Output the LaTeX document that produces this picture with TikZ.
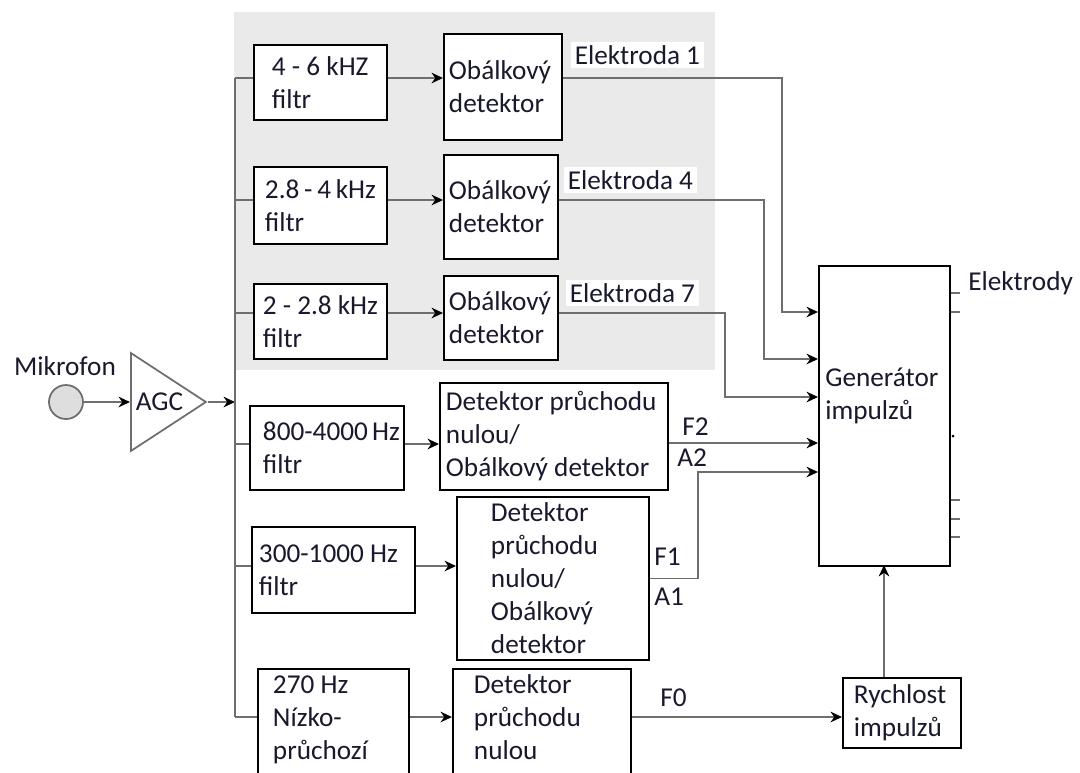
\documentclass[tikz,border=0pt]{standalone}
\usepackage{fontspec}
\setmainfont{Carlito}
\usepackage{tikz}
\usetikzlibrary{arrows.meta,shapes.geometric}
\exhyphenpenalty=10000
\hyphenpenalty=10000
\definecolor{ink}{RGB}{25,25,45}
\definecolor{wire}{RGB}{110,110,110}
\definecolor{tint}{RGB}{234,234,234}

\begin{document}
\begin{tikzpicture}[x=0.02cm, y=-0.02cm,
    txt/.style={font=\fontsize{15.5}{18.8}\selectfont, text=ink},
    blok/.style n args={3}{txt, draw=black, fill=white, line width=1.1pt, anchor=north west,
        align=flush left, inner ysep=0pt, minimum width=#1*0.02cm, minimum height=#2*0.02cm,
        inner xsep=#3*0.02cm, text width=(#1-2*#3)*0.02cm},
    conn/.style={draw=wire, line width=1.1pt},
    arr/.style={conn, -{Stealth[length=6.5pt, width=6pt, color=black]}},
    lab/.style={txt, anchor=west, inner sep=0pt},
    elab/.style={lab, fill=white, inner sep=2pt}]
    \path[use as bounding box, clip] (0,0) rectangle (1080,772);
    \fill[tint] (234,12) rectangle (715,370);

    \node[circle, draw=wire, fill=black!13, line width=1pt, minimum size=34*0.02cm, inner sep=0pt] (mic) at (66,402) {};
    \node[txt] (miclab) at (65,366) {Mikrofon};
    \node[isosceles triangle, isosceles triangle stretches, draw=wire, fill=white, line width=1pt,
        minimum width=98*0.02cm, minimum height=75*0.02cm, inner sep=0pt, txt, anchor=west] (agc) at (130,402) {AGC};

    \coordinate (r1) at (235,78);
    \coordinate (r2) at (235,200);
    \coordinate (r3) at (235,313);
    \coordinate (r4) at (235,444);
    \coordinate (r5) at (235,566);
    \coordinate (r6) at (235,717);

    \node[blok={133}{75}{18}] (f1) at (253,44) {4~-~6~kHZ\\filtr};
    \node[blok={133}{77}{11}] (f2) at (253,166) {2.8~-~4~kHz\\filtr};
    \node[blok={133}{75}{9}] (f3) at (253,283) {2~-~2.8~kHz\\filtr};
    \node[blok={154}{84}{13}] (f4) at (249,405) {800-4000~Hz\\filtr};
    \node[blok={163}{86}{7}] (f5) at (251,526) {300-1000~Hz\\filtr};
    \node[blok={151}{130}{15}] (f6) at (257,668) {270~Hz\\Nízko-\\průchozí\\\mbox{}};

    \node[blok={118}{106}{5}] (d1) at (443,33) {Obálkový\\detektor};
    \node[blok={114}{104}{5}] (d2) at (443,154) {Obálkový\\detektor};
    \node[blok={114}{84}{5}] (d3) at (443,275) {Obálkový\\detektor};
    \node[blok={228}{107}{6}] (d4) at (439,382) {Detektor~průchodu\\nulou/\\Obálkový~detektor};
    \node[blok={192}{163}{34}] (d5) at (456,496) {Detektor\\průchodu\\nulou/\\Obálkový\\detektor};
    \node[blok={178}{130}{21}] (d6) at (452,668) {Detektor\\průchodu\\nulou\\\mbox{}};

    \node[blok={131}{300}{7}, label={[txt, anchor=west, align=flush left, inner sep=0pt, xshift=0.14cm, yshift=11.3pt]west:Generátor\\impulzů}] (gen) at (818,265) {};
    \node[blok={118}{70}{11}] (rate) at (842,677) {Rychlost\\impulzů};

    \coordinate (g1) at (818,312);
    \coordinate (g2) at (818,359);
    \coordinate (g3) at (818,397);
    \coordinate (g4) at (818,443);
    \coordinate (g5) at (818,472);
    \coordinate (g7) at (884,565);

    \draw[arr] (mic) -- (agc.west);
    \draw[arr] (agc.apex) -- (agc.apex -| r1);
    \draw[conn] (r1) -- (r6);
    \foreach \r/\f/\d in {r1/f1/d1, r2/f2/d2, r3/f3/d3, r4/f4/d4, r5/f5/d5, r6/f6/d6} {
        \draw[conn] (\r) -- (\r -| \f.west);
        \draw[arr] (\r -| \f.east) -- (\r -| \d.west);
    }

    \draw[arr] (r1 -| d1.east) -- +(219,0) |- (g1);
    \draw[arr] (r2 -| d2.east) -- +(205,0) |- (g2);
    \draw[arr] (r3 -| d3.east) -- +(166,0) |- (g3);
    \draw[arr] (d4.east |- g4) -- (g4);
    \draw[arr] (d5.east) -- +(48,0) |- (g5);
    \draw[arr] (r6 -| d6.east) -- (r6 -| rate.west);
    \draw[arr] (g7 |- rate.north) -- (g7);

    \foreach \ty in {293,312,500,519,537}
        \draw[conn] (gen.east |- 0,\ty) -- +(9,0);
    \fill (953,436) circle (1.5);

    \node[elab] (e1) at (571,55) {Elektroda 1};
    \node[elab] (e4) at (564,180) {Elektroda 4};
    \node[elab] (e7) at (566,293) {Elektroda 7};
    \node[lab] (lf2) at (682,427) {F2};
    \node[lab] (la2) at (677,458) {A2};
    \node[lab] (lf1) at (654,557) {F1};
    \node[lab] (la1) at (654,597) {A1};
    \node[lab] (lf0) at (660,698) {F0};
    \node[lab] (lel) at (968,283) {Elektrody};
\end{tikzpicture}
\end{document}
